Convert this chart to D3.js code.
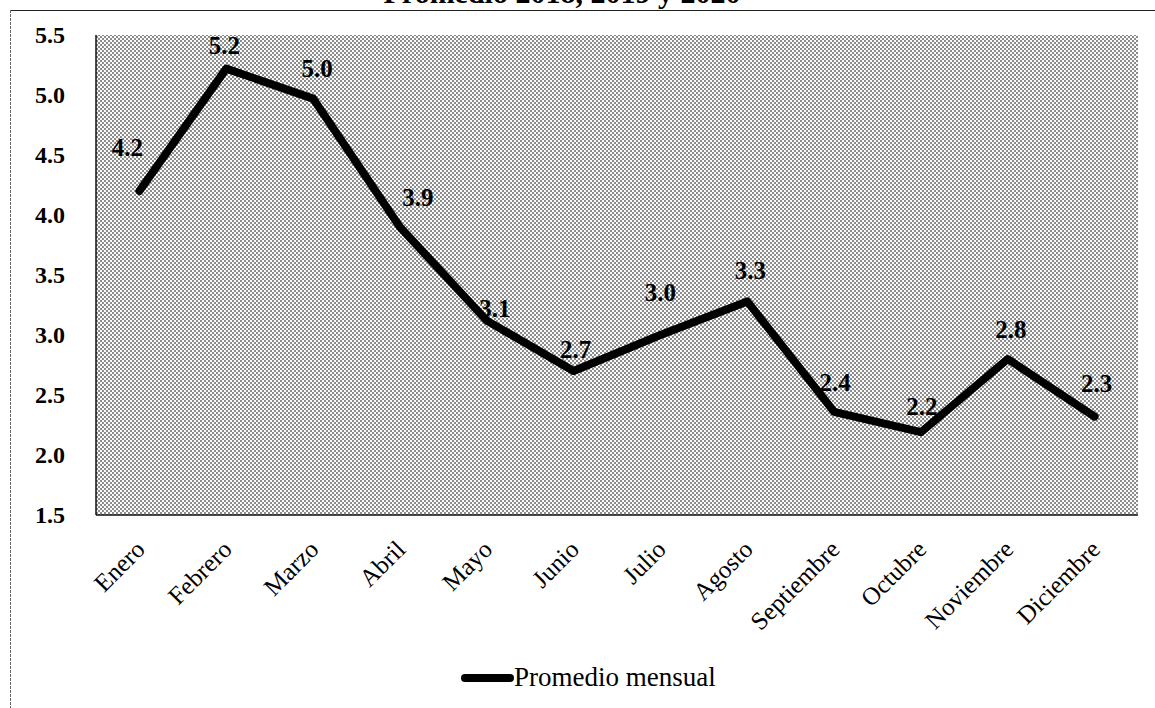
<!DOCTYPE html>
<html lang="es">
<head>
  <meta charset="UTF-8" />
  <title>Promedio 2018, 2019 y 2020</title>
  <script src="https://d3js.org/d3.v7.min.js"></script>
  <style>
    body {
      margin: 0;
      background: #fff;
    }
    svg {
      display: block;
      font-family: "Liberation Serif", "Times New Roman", serif;
    }
    .title {
      font-size: 30px;
      font-weight: bold;
      text-anchor: middle;
    }
    .ylab {
      font-size: 24px;
      font-weight: bold;
      text-anchor: end;
    }
    .xlab {
      font-size: 25px;
      text-anchor: end;
    }
    .vlab {
      font-size: 25px;
      font-weight: bold;
      text-anchor: middle;
    }
    .serie {
      fill: none;
      stroke: #000;
      stroke-width: 8px;
      stroke-linejoin: round;
      stroke-linecap: round;
    }
    .legend text {
      font-size: 27px;
    }
  </style>
</head>
<body>
<svg width="1155" height="708"></svg>
<script>
// datos
const meses = ["Enero", "Febrero", "Marzo", "Abril", "Mayo", "Junio", "Julio",
  "Agosto", "Septiembre", "Octubre", "Noviembre", "Diciembre"];
const promedio = [4.2, 5.22, 4.97, 3.9, 3.12, 2.7, 3.0, 3.28, 2.36, 2.19, 2.8, 2.32];
const yTicks = [1.5, 2.0, 2.5, 3.0, 3.5, 4.0, 4.5, 5.0, 5.5];
const titulo = "Promedio 2018, 2019 y 2020";
const serieNombre = "Promedio mensual";

// ajuste manual de las etiquetas (dx, dy respecto al punto)
const labelShift = [[-12, -44], [-2, -23], [4, -30], [18, -30], [8, -12], [2, -22],
  [0, -43], [3, -31], [1, -30], [1, -26], [3, -30], [2, -33]];

const svg = d3.select("svg");
const W = 1155, H = 708;
const plot = { left: 96, right: 1138, top: 35, bottom: 515 };

// marco exterior
svg.append("line")
  .attr("x1", 10).attr("x2", W).attr("y1", 10.5).attr("y2", 10.5)
  .attr("stroke", "#222").attr("stroke-width", 1.2);
svg.append("line")
  .attr("x1", 10.5).attr("x2", 10.5).attr("y1", 10).attr("y2", H)
  .attr("stroke", "#666").attr("stroke-width", 1).attr("stroke-dasharray", "3,1");

// titulo (cortado arriba, como en el original)
svg.append("text").attr("class", "title")
  .attr("x", 562).attr("y", 3)
  .text(titulo);

// trama de puntos del area de grafico
const defs = svg.append("defs");
const pat = defs.append("pattern")
  .attr("id", "trama")
  .attr("patternUnits", "userSpaceOnUse")
  .attr("width", 4).attr("height", 4);
pat.append("rect").attr("width", 4).attr("height", 4).attr("fill", "#fafafa");
pat.append("rect").attr("x", 0).attr("y", 0).attr("width", 2).attr("height", 2).attr("fill", "#8c8c8c");
pat.append("rect").attr("x", 2).attr("y", 2).attr("width", 2).attr("height", 2).attr("fill", "#8c8c8c");

const x = d3.scalePoint()
  .domain(meses)
  .range([plot.left, plot.right])
  .padding(0.5);

const y = d3.scaleLinear()
  .domain([1.5, 5.5])
  .range([plot.bottom, plot.top]);

svg.append("rect")
  .attr("x", plot.left).attr("y", plot.top)
  .attr("width", plot.right - plot.left)
  .attr("height", plot.bottom - plot.top)
  .attr("fill", "url(#trama)");

// ejes (solo lineas, sin marcas)
svg.append("line")
  .attr("x1", plot.left).attr("x2", plot.left)
  .attr("y1", plot.top).attr("y2", plot.bottom)
  .attr("stroke", "#111").attr("stroke-width", 1.5);
svg.append("line")
  .attr("x1", plot.left).attr("x2", plot.right)
  .attr("y1", plot.bottom).attr("y2", plot.bottom)
  .attr("stroke", "#111").attr("stroke-width", 1.5);

// etiquetas eje Y
svg.selectAll(".ylab")
  .data(yTicks)
  .join("text")
  .attr("class", "ylab")
  .attr("x", 65)
  .attr("y", d => y(d))
  .attr("dy", "0.35em")
  .text(d => d3.format(".1f")(d));

// etiquetas eje X
svg.selectAll(".xlab")
  .data(meses)
  .join("text")
  .attr("class", "xlab")
  .attr("transform", d => `translate(${x(d) + 7},551) rotate(-45)`)
  .text(d => d);

// serie
const line = d3.line()
  .x((d, i) => x(meses[i]))
  .y(d => y(d));

svg.append("path")
  .datum(promedio)
  .attr("class", "serie")
  .attr("d", line);

// etiquetas de datos
svg.selectAll(".vlab")
  .data(promedio)
  .join("text")
  .attr("class", "vlab")
  .attr("x", (d, i) => x(meses[i]) + labelShift[i][0])
  .attr("y", (d, i) => y(d) + labelShift[i][1])
  .attr("dy", "0.35em")
  .text(d => d3.format(".1f")(d));

// leyenda
const lg = svg.append("g").attr("class", "legend");
lg.append("line")
  .attr("x1", 465).attr("x2", 510)
  .attr("y1", 678).attr("y2", 678)
  .attr("stroke", "#000").attr("stroke-width", 8)
  .attr("stroke-linecap", "round");
lg.append("text")
  .attr("x", 514).attr("y", 686)
  .text(serieNombre);
</script>
</body>
</html>
